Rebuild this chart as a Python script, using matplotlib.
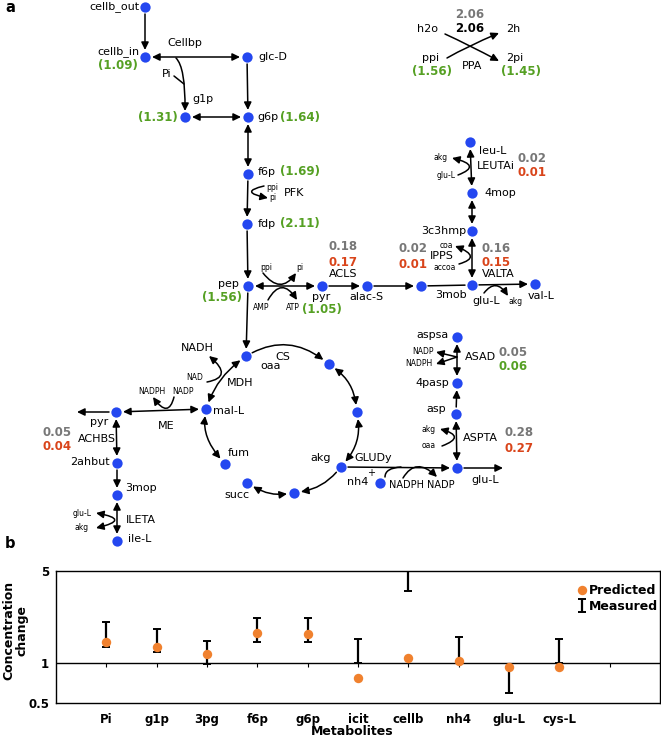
import numpy as np
import matplotlib.pyplot as plt
from matplotlib.patches import FancyArrowPatch
from matplotlib.path import Path

plt.rcParams['font.family'] = 'DejaVu Sans'

# ---- panel b data ----
metabolites = ['Pi', 'g1p', '3pg', 'f6p', 'g6p', 'icit', 'cellb', 'nh4', 'glu-L', 'cys-L', '']
predicted = [1.46, 1.32, 1.18, 1.70, 1.68, 0.78, 1.10, 1.04, 0.94, 0.94]
measured_low = [1.33, 1.21, 0.98, 1.46, 1.46, 1.01, 3.50, 1.00, 0.60, 1.00]
measured_high = [2.05, 1.82, 1.48, 2.20, 2.20, 1.53, 5.60, 1.59, 0.94, 1.53]

# ---- panel a data ----
# predicted concentration changes shown in green next to metabolites
conc_names = ['cellb_in', 'g1p', 'g6p', 'f6p', 'fdp', 'pep', 'pyr', 'ppi', '2pi']
conc_values = [1.09, 1.31, 1.64, 1.69, 2.11, 1.56, 1.05, 1.56, 1.45]
# reaction fluxes: reference (gray) and perturbed (coloured by direction)
flux_names = ['PPA', 'ACLS', 'IPPS', 'VALTA', 'LEUTAi', 'ACHBS', 'ASAD', 'ASPTA']
flux_ref = [2.06, 0.18, 0.02, 0.16, 0.02, 0.05, 0.05, 0.28]
flux_new = [2.06, 0.17, 0.01, 0.15, 0.01, 0.04, 0.06, 0.27]

BLUE = '#2447f0'
GREEN = '#55a023'
GRAY = '#777777'
RED = '#d9441a'
ORANGE = '#f0812e'

fig = plt.figure(figsize=(6.61, 7.40), dpi=100)
ax = fig.add_axes([0, 0, 1, 1])
ax.set_xlim(0, 661)
ax.set_ylim(740, 0)
ax.axis('off')

# node layout (pixel positions)
nodes = {
    'cellb_out': (145, 7), 'cellb_in': (145, 57), 'glc_D': (247, 57),
    'g1p': (185, 117), 'g6p': (248, 117), 'f6p': (248, 174), 'fdp': (247, 224),
    'pep': (248, 286), 'pyr': (322, 286), 'alac': (367, 286), 'acetol': (421, 286),
    'mob3': (472, 285), 'valL': (535, 284), 'c3hmp': (472, 231), 'mop4': (472, 193),
    'leuL': (470, 142), 'oaa': (246, 356), 'cit': (329, 364), 'icit': (357, 412),
    'akg': (341, 467), 'sucoa': (294, 493), 'succ': (247, 483), 'fum': (225, 464),
    'malL': (206, 409), 'pyr2': (116, 412), 'ahbut': (117, 463), 'mop3': (117, 495),
    'ileL': (117, 541), 'aspsa': (457, 337), 'pasp4': (457, 383), 'asp': (456, 414),
    'gluL': (457, 468), 'nh4': (380, 483),
}

HEAD = ',head_length=0.45,head_width=0.22'


def link(p0, p1, mid=None, style='-|>', sa=0, sb=0, lw=1.1):
    p0 = np.array(nodes.get(p0, p0), float)
    p1 = np.array(nodes.get(p1, p1), float)
    if mid is None:
        c = (p0 + p1) / 2
    else:
        c = 2 * np.array(mid, float) - (p0 + p1) / 2
    if sa:
        d = c - p0
        p0 = p0 + sa * d / np.hypot(*d)
    if sb:
        d = c - p1
        p1 = p1 + sb * d / np.hypot(*d)
    path = Path([p0, c, p1], [Path.MOVETO, Path.CURVE3, Path.CURVE3])
    arrowstyle = style if style == '-' else style + HEAD
    ax.add_patch(FancyArrowPatch(path=path, arrowstyle=arrowstyle,
                                 mutation_scale=10, lw=lw, color='k', zorder=2))


def node_link(a, b, style='-|>', mid=None):
    link(a, b, mid=mid, style=style, sa=7, sb=7)


def txt(x, y, s, size=8, ha='center', color='k', weight='normal'):
    ax.text(x, y, s, fontsize=size, ha=ha, va='center', color=color, weight=weight)


# main reactions
node_link('cellb_out', 'cellb_in')
node_link('cellb_in', 'glc_D', '<|-|>')
node_link('glc_D', 'g6p')
node_link('g1p', 'g6p', '<|-|>')
node_link('f6p', 'g6p', '<|-|>')
node_link('f6p', 'fdp')
node_link('fdp', 'pep')
node_link('pep', 'pyr', '<|-|>')
node_link('pep', 'oaa')
node_link('pyr', 'alac')
node_link('alac', 'acetol')
node_link('acetol', 'mob3', '-')
node_link('mob3', 'valL')
node_link('mob3', 'c3hmp', '<|-|>')
node_link('c3hmp', 'mop4', '<|-|>')
node_link('mop4', 'leuL', '<|-|>')
node_link('pyr2', 'malL', '<|-|>')
node_link('pyr2', 'ahbut', '<|-|>')
node_link('ahbut', 'mop3')
node_link('mop3', 'ileL', '<|-|>')
node_link('aspsa', 'pasp4', '<|-|>')
node_link('asp', 'pasp4')
node_link('asp', 'gluL', '<|-|>')
node_link('akg', 'gluL')
link('pyr2', (77, 412), sa=7)
link('gluL', (503, 468), sa=7)

# TCA cycle
node_link('oaa', 'cit', mid=(288, 347))
node_link('cit', 'icit', '<|-|>', mid=(348, 385))
node_link('icit', 'akg', '<|-|>', mid=(355, 441))
node_link('akg', 'sucoa', mid=(320, 484))
node_link('sucoa', 'succ', '<|-|>', mid=(270, 492))
node_link('fum', 'malL', '<|-|>', mid=(209, 437))
node_link('malL', 'oaa', '<|-|>', mid=(222, 380))

# cofactor swoops
link((176, 58), (185, 111), mid=(183, 76))
link((174, 76), (184, 84), mid=(179, 80), style='-')
link((264, 186), (268, 198), mid=(252, 192))
link((263, 273), (296, 273), mid=(280, 284))
link((268, 300), (297, 300), mid=(282, 288))
link((445, 34), (499, 61), mid=(470, 46))
link((447, 58), (499, 33), mid=(470, 46))
link((484, 293), (508, 296), mid=(496, 286))
link((459, 264), (455, 246), mid=(470, 256))
link((458, 175), (452, 158), mid=(469, 166))
link((207, 382), (209, 356), mid=(221, 373))
link((174, 397), (153, 397), mid=(166, 408))
link((96, 513), (96, 528), mid=(114, 520), style='<|-|>')
link((457, 357), (436, 352))
link((457, 357), (436, 364))
link((442, 446), (440, 429), mid=(454, 437))
link((385, 477), (401, 467), mid=(389, 470), style='-')
link((403, 478), (437, 477), mid=(418, 467))

xs = [p[0] for p in nodes.values()]
ys = [p[1] for p in nodes.values()]
ax.scatter(xs, ys, s=55, color=BLUE, zorder=3, linewidths=0)

# metabolite and reaction labels
S = 5.5
txt(139, 7, 'cellb_out', ha='right')
txt(139, 52, 'cellb_in', ha='right')
txt(185, 43, 'Cellbp')
txt(258, 57, 'glc-D', ha='left')
txt(167, 74, 'Pi')
txt(203, 99, 'g1p')
txt(257, 117, 'g6p', ha='left')
txt(258, 172, 'f6p', ha='left')
txt(294, 193, 'PFK')
txt(272, 187, 'ppi', size=S)
txt(273, 197, 'pi', size=S)
txt(258, 224, 'fdp', ha='left')
txt(239, 284, 'pep', ha='right')
txt(266, 267, 'ppi', size=S)
txt(300, 267, 'pi', size=S)
txt(261, 307, 'AMP', size=S)
txt(293, 307, 'ATP', size=S)
txt(321, 297, 'pyr')
txt(366, 297, 'alac-S')
txt(343, 274, 'ACLS')
txt(451, 295, '3mob')
txt(486, 301, 'glu-L')
txt(516, 301, 'akg', size=S)
txt(498, 274, 'VALTA')
txt(541, 296, 'val-L')
txt(466, 231, '3c3hmp', ha='right')
txt(442, 256, 'IPPS')
txt(446, 246, 'coa', size=S)
txt(445, 267, 'accoa', size=S)
txt(484, 193, '4mop', ha='left')
txt(479, 151, 'leu-L', ha='left')
txt(477, 166, 'LEUTAi', ha='left')
txt(441, 158, 'akg', size=S)
txt(446, 176, 'glu-L', size=S)
txt(427, 29, 'h2o')
txt(513, 29, '2h')
txt(431, 58, 'ppi')
txt(472, 66, 'PPA')
txt(515, 58, '2pi')
txt(260, 366, 'oaa', ha='left')
txt(283, 357, 'CS')
txt(197, 348, 'NADH')
txt(195, 378, 'NAD', size=S)
txt(240, 383, 'MDH')
txt(152, 391, 'NADPH', size=S)
txt(183, 391, 'NADP', size=S)
txt(213, 411, 'mal-L', ha='left')
txt(99, 422, 'pyr')
txt(166, 426, 'ME')
txt(97, 439, 'ACHBS')
txt(110, 462, '2ahbut', ha='right')
txt(125, 488, '3mop', ha='left')
txt(126, 520, 'ILETA', ha='left')
txt(82, 513, 'glu-L', size=S)
txt(82, 528, 'akg', size=S)
txt(128, 539, 'ile-L', ha='left')
txt(228, 453, 'fum', ha='left')
txt(237, 495, 'succ')
txt(321, 458, 'akg')
txt(373, 458, 'GLUDy')
txt(358, 482, 'nh4')
txt(371, 473, '+', size=7)
txt(407, 485, 'NADPH', size=7)
txt(441, 485, 'NADP', size=7)
txt(449, 335, 'aspsa', ha='right')
txt(480, 357, 'ASAD')
txt(423, 352, 'NADP', size=S)
txt(419, 364, 'NADPH', size=S)
txt(449, 383, '4pasp', ha='right')
txt(436, 409, 'asp')
txt(480, 438, 'ASPTA')
txt(429, 429, 'akg', size=S)
txt(429, 446, 'oaa', size=S)
txt(471, 480, 'glu-L', ha='left')

# green concentration changes
conc_pos = {'cellb_in': (118, 66, 'center'), 'g1p': (178, 117, 'right'),
            'g6p': (280, 117, 'left'), 'f6p': (280, 172, 'left'),
            'fdp': (280, 224, 'left'), 'pep': (222, 298, 'center'),
            'pyr': (322, 310, 'center'), 'ppi': (432, 72, 'center'),
            '2pi': (521, 72, 'center')}
for name, val in zip(conc_names, conc_values):
    x, y, ha = conc_pos[name]
    txt(x, y, '(%.2f)' % val, size=8.5, ha=ha, color=GREEN, weight='bold')

# flux pairs
flux_pos = {'PPA': (470, 14), 'ACLS': (343, 247), 'IPPS': (413, 249),
            'VALTA': (496, 248), 'LEUTAi': (532, 158), 'ACHBS': (57, 432),
            'ASAD': (513, 352), 'ASPTA': (519, 433)}
for name, ref, new in zip(flux_names, flux_ref, flux_new):
    x, y = flux_pos[name]
    col = 'k' if new == ref else (GREEN if new > ref else RED)
    txt(x, y, '%.2f' % ref, size=8.5, color=GRAY, weight='bold')
    txt(x, y + 15, '%.2f' % new, size=8.5, color=col, weight='bold')

ax.text(10, 7, 'a', fontsize=10.5, weight='bold', ha='center', va='center')
ax.text(10, 544, 'b', fontsize=10.5, weight='bold', ha='center', va='center')

# ---- panel b ----
bx = fig.add_axes([56 / 661, 37 / 740, 604 / 661, 132 / 740])
idx = np.arange(len(metabolites))
n = len(predicted)
low = np.array(measured_low)
high = np.array(measured_high)
bx.set_yscale('log')
bx.set_ylim(0.5, 5)
bx.set_xlim(-1, len(metabolites))
bx.axhline(1, color='k', lw=1.0, zorder=1)
bx.plot(idx, np.ones(len(idx)), ls='none', marker=3, ms=3, mew=0.8, color='k', zorder=1)
meas = bx.errorbar(idx[:n], low, yerr=[np.zeros(n), high - low], fmt='none',
                   ecolor='k', elinewidth=1.6, capsize=2.8, capthick=1.4, zorder=2,
                   label='Measured')
pred = bx.scatter(idx[:n], predicted, s=46, color=ORANGE, zorder=3, linewidths=0,
                  label='Predicted')
bx.set_yticks([0.5, 1, 5])
bx.set_yticklabels(['0.5', '1', '5'])
bx.yaxis.set_minor_locator(plt.NullLocator())
bx.set_xticks(idx)
bx.set_xticklabels(metabolites)
bx.tick_params(length=0, labelsize=8.5)
bx.tick_params(axis='y', pad=5)
bx.tick_params(axis='x', pad=7)
for lab in bx.get_xticklabels() + bx.get_yticklabels():
    lab.set_fontweight('bold')
for sp in bx.spines.values():
    sp.set_linewidth(1.0)
bx.set_ylabel('Concentration\nchange', fontsize=9, weight='bold', linespacing=1.0)
bx.yaxis.set_label_coords(-0.046, 0.55)
bx.set_xlabel('Metabolites', fontsize=9, weight='bold')
bx.xaxis.set_label_coords(0.49, -0.17)
bx.legend([pred, meas], ['Predicted', 'Measured'], loc='upper right',
          bbox_to_anchor=(1.016, 0.99), frameon=False, handlelength=0.7,
          handletextpad=0.2, labelspacing=0.25, prop={'weight': 'bold', 'size': 9})

fig.savefig('out.png', dpi=100)
